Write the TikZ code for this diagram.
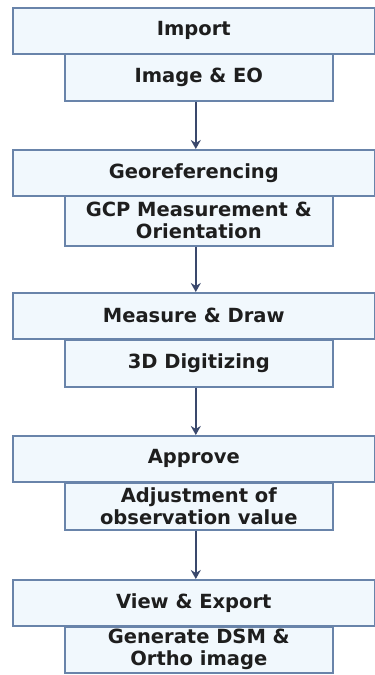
\documentclass[tikz,border=0pt]{standalone}
\usepackage{fontspec}
\setmainfont{DejaVu Sans}
\usetikzlibrary{arrows.meta}
\definecolor{boxline}{RGB}{105,132,170}
\definecolor{boxfill}{RGB}{241,248,253}
\definecolor{arrowc}{RGB}{58,72,108}
\definecolor{txt}{RGB}{30,30,30}
\tikzset{
  mainbox/.style={draw=boxline, fill=boxfill, line width=1.6pt, anchor=north west,
    minimum width=362pt, minimum height=46pt, inner sep=0pt,
    font=\fontsize{19.5}{22}\selectfont\bfseries, text=txt},
  subbox/.style={draw=boxline, fill=boxfill, line width=1.6pt, anchor=north west,
    minimum width=268pt, minimum height=47pt, inner sep=0pt, align=center,
    font=\fontsize{19.5}{22}\selectfont\bfseries, text=txt},
  arr/.style={draw=arrowc, line width=2pt, -{Stealth[length=9pt,width=10pt]}}
}
\begin{document}
\begin{tikzpicture}[x=1pt,y=-1pt]
\useasboundingbox (0,0) rectangle (375,675);
\node[mainbox] (m1) at (12,7) {Import};
\node[subbox] (s1) at (64,53) {Image \& EO};
\node[mainbox] (m2) at (12,149) {Georeferencing};
\node[subbox, minimum height=50pt] (s2) at (64,195) {GCP Measurement \&\\Orientation};
\node[mainbox] (m3) at (12,292) {Measure \& Draw};
\node[subbox] (s3) at (64,339) {3D Digitizing};
\node[mainbox] (m4) at (12,435) {Approve};
\node[subbox] (s4) at (64,482) {Adjustment of\\observation value};
\node[mainbox] (m5) at (12,579) {View \& Export};
\node[subbox, minimum height=46pt] (s5) at (64,626) {Generate DSM \&\\Ortho image};
\foreach \a/\b in {s1/m2,s2/m3,s3/m4,s4/m5}{
  \draw[arr] ([xshift=-3pt]\a.south) -- ([xshift=-3pt]\a.south |- \b.north);
}
\end{tikzpicture}
\end{document}
